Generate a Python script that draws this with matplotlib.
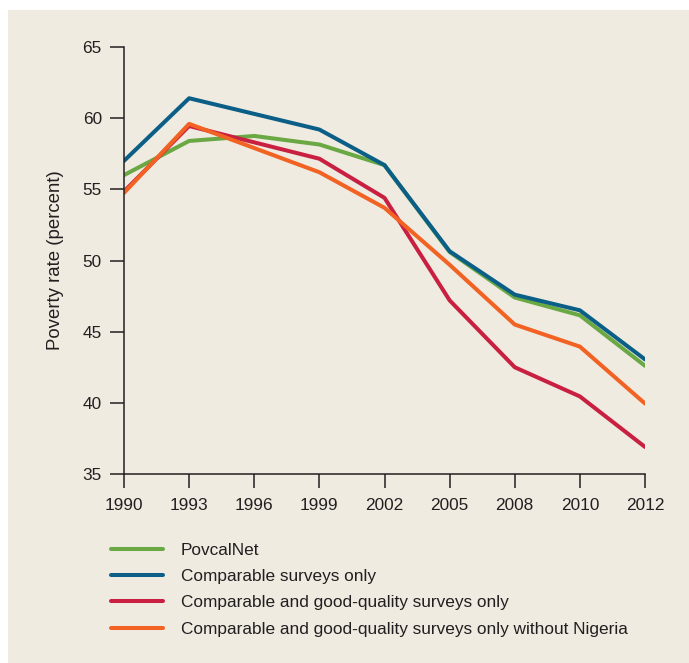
import matplotlib.pyplot as plt
from matplotlib.patches import Rectangle

plt.rcParams['font.family'] = ['Liberation Sans Narrow', 'Liberation Sans', 'DejaVu Sans']

years = ['1990', '1993', '1996', '1999', '2002', '2005', '2008', '2010', '2012']
povcalnet = [56.0, 58.4, 58.75, 58.15, 56.7, 50.6, 47.4, 46.15, 42.6]
comparable = [57.0, 61.4, 60.3, 59.2, 56.7, 50.65, 47.6, 46.5, 43.05]
good_quality = [54.85, 59.45, 58.3, 57.15, 54.4, 47.2, 42.5, 40.45, 36.9]
no_nigeria = [54.75, 59.6, 57.9, 56.2, 53.7, 49.7, 45.5, 43.95, 39.95]

labels = ['PovcalNet', 'Comparable surveys only',
          'Comparable and good-quality surveys only',
          'Comparable and good-quality surveys only without Nigeria']
colors = ['#6aa843', '#0b5f87', '#c91f40', '#f26223']
series = [povcalnet, comparable, good_quality, no_nigeria]

bg = '#efebe1'
fs = 12.4
fig = plt.figure(figsize=(6.89, 6.63), dpi=100)
fig.patches.append(Rectangle((8 / 689, 0), 1, 1 - 10 / 663, transform=fig.transFigure,
                             facecolor=bg, edgecolor='none', zorder=-10))
ax = fig.add_axes([124 / 689, 1 - 474 / 663, (645 - 124) / 689, (474 - 47) / 663])
ax.set_facecolor('none')

x = list(range(len(years)))
handles = []
for vals, c, lab in zip(series, colors, labels):
  h, = ax.plot(x, vals, color=c, lw=2.9, label=lab, solid_capstyle='round')
  handles.append(h)

ax.set_xlim(0, len(years) - 1)
ax.set_ylim(35, 65)
ax.set_xticks(x)
ax.set_xticklabels(years)
ax.set_yticks([35, 40, 45, 50, 55, 60, 65])
for s in ['top', 'right']:
  ax.spines[s].set_visible(False)
for s in ['left', 'bottom']:
  ax.spines[s].set_color('#231f20')
  ax.spines[s].set_linewidth(1.1)
ax.tick_params(axis='both', colors='#231f20', labelsize=fs, length=10, width=1.1)
ax.tick_params(axis='x', pad=7)
ax.tick_params(axis='y', pad=6)
ax.set_ylabel('Poverty rate (percent)', fontsize=13.4, color='#231f20', labelpad=13)

leg = fig.legend(handles=handles, labels=labels, loc='upper left',
                 bbox_to_anchor=(104 / 689, 1 - 536 / 663), frameon=False,
                 fontsize=fs, handlelength=3.0, handletextpad=1.05,
                 labelspacing=0.65, borderaxespad=0)
for t in leg.get_texts():
  t.set_color('#231f20')

fig.savefig('out.png', dpi=100)
